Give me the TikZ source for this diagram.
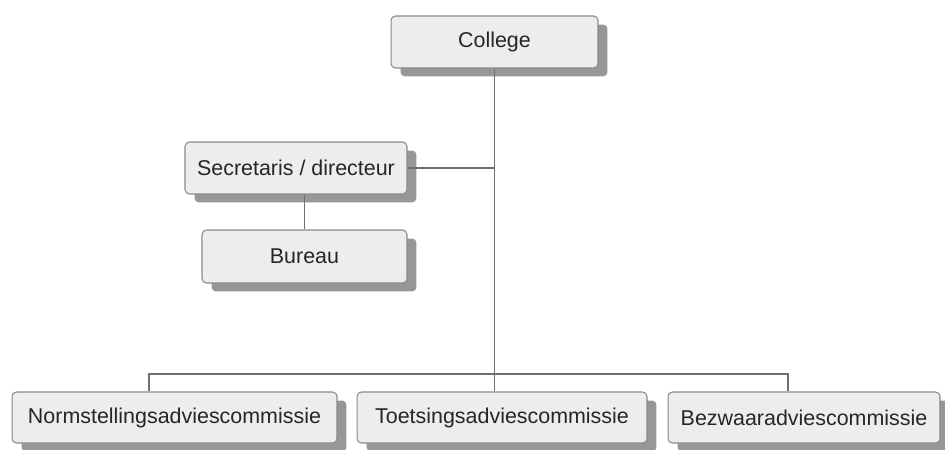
\documentclass[tikz,border=0pt]{standalone}
\usepackage{fontspec}
\setmainfont{Liberation Sans}
\usetikzlibrary{shadows}

\definecolor{boxfill}{HTML}{EDEDED}
\definecolor{boxline}{HTML}{8A8A8A}
\definecolor{connline}{HTML}{707070}

\tikzset{
  orgbox/.style={draw=boxline, line width=0.6pt, fill=boxfill, rounded corners=2.5pt,
    inner sep=0pt, minimum height=1.04cm, text=black!85,
    font=\fontsize{12.2}{14}\selectfont,
    drop shadow={shadow xshift=0.19cm, shadow yshift=-0.17cm, fill=black!45, opacity=0.9}},
  link/.style={draw=connline, line width=0.6pt}
}

\begin{document}
\begin{tikzpicture}[x=0.02cm, y=-0.02cm]
\useasboundingbox (0,0) rectangle (945,449);

\node[orgbox, minimum width=4.14cm] (college) at (494.5,42) {College};

\node[orgbox, minimum width=4.44cm] (secr) at (296,168) {Secretaris / directeur};
\node[orgbox, minimum width=4.10cm, minimum height=1.06cm] (bureau) at (304.5,256.5) {Bureau};

\node[orgbox, minimum width=6.50cm, minimum height=1.02cm] (norm) at (174.5,417.5) {Normstellingsadviescommissie};
\node[orgbox, minimum width=5.80cm, minimum height=1.02cm] (toets) at (502,417.5) {Toetsingsadviescommissie};
\node[orgbox, minimum width=5.44cm, minimum height=1.02cm] (bezwaar) at (804,417.5) {Bezwaaradviescommissie};

\coordinate (busL) at (149,374);
\coordinate (busR) at (788,374);

\draw[link] (college.south) -- (college.south |- toets.north);
\draw[link] (secr.east) -- (secr.east -| college.south);
\draw[link] (bureau.north |- secr.south) -- (bureau.north);
\draw[link] (busL |- norm.north) -- (busL) -- (busR) -- (busR |- bezwaar.north);
\end{tikzpicture}
\end{document}
